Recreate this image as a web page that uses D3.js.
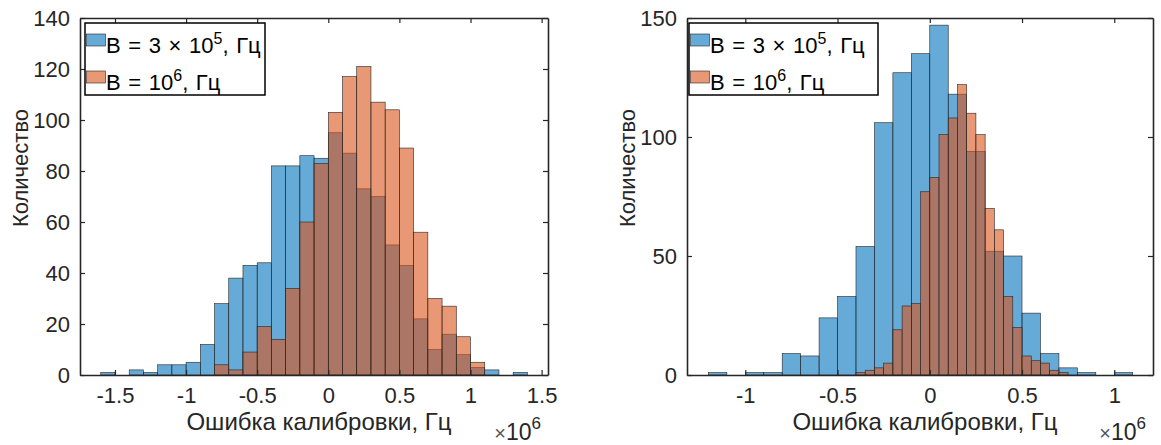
<!DOCTYPE html>
<html>
<head>
<meta charset="utf-8">
<script src="https://cdn.jsdelivr.net/npm/d3@7"></script>
<style>
  body { margin: 0; background: #fff; }
  svg { display: block; font-family: 'Liberation Sans', Arial, Helvetica, sans-serif; }
</style>
</head>
<body>
<svg id="chart" width="1161" height="445"></svg>
<script>
// counts per bin, x in units of 1e6 Hz
// left panel: both series with bin width 0.1
const leftBlueStart = -1.6;
const leftBlueWidth = 0.1;
const leftBlue = [1, 0, 2, 1, 4, 4, 5, 12, 28, 38, 43, 44, 82, 82, 86, 85, 95, 87, 73, 70, 51, 43, 22, 10, 16, 8, 3, 2, 0, 1];
const leftOrangeStart = -0.8;
const leftOrangeWidth = 0.1;
const leftOrange = [4, 2, 9, 19, 14, 34, 60, 83, 103, 117, 121, 107, 104, 89, 56, 30, 27, 15, 5];

// right panel: blue bins 0.1, orange bins 0.05
const rightBlueStart = -1.2;
const rightBlueWidth = 0.1;
const rightBlue = [1, 0, 1, 1, 9, 8, 24, 33, 54, 106, 127, 135, 147, 118, 94, 52, 50, 26, 9, 3, 1, 0, 1];
const rightOrangeStart = -0.4;
const rightOrangeWidth = 0.05;
const rightOrange = [1, 2, 3, 5, 19, 29, 30, 77, 83, 101, 108, 122, 110, 101, 70, 61, 33, 20, 8, 6, 5, 2, 1];

const leftXTicks = [-1.5, -1, -0.5, 0, 0.5, 1, 1.5];
const leftYTicks = [0, 20, 40, 60, 80, 100, 120, 140];
const rightXTicks = [-1, -0.5, 0, 0.5, 1];
const rightYTicks = [0, 50, 100, 150];

const seriesColors = ['#0072BD', '#D95319'];
const xLabel = 'Ошибка калибровки, Гц';
const yLabel = 'Количество';

const axisColor = '#262626';
const svg = d3.select('#chart');

function toBins(start, width, counts) {
  return counts.map((c, i) => ({ x0: start + i * width, x1: start + (i + 1) * width, n: c }));
}

function drawPanel(cfg) {
  const x = d3.scaleLinear().domain(cfg.xDomain).range([cfg.left, cfg.right]);
  const y = d3.scaleLinear().domain(cfg.yDomain).range([cfg.bottom, cfg.top]);
  const g = svg.append('g');

  // bars, second series drawn on top
  cfg.series.forEach((s, si) => {
    g.append('g').selectAll('rect')
      .data(toBins(s.start, s.width, s.counts))
      .join('rect')
      .attr('x', d => x(d.x0))
      .attr('width', d => x(d.x1) - x(d.x0))
      .attr('y', d => y(d.n))
      .attr('height', d => y(0) - y(d.n))
      .attr('fill', seriesColors[si])
      .attr('fill-opacity', 0.6)
      .attr('stroke', axisColor)
      .attr('stroke-width', 0.6);
  });

  // axes, ticks inward on all four sides (box on)
  const tl = 5;
  g.append('g')
    .attr('transform', `translate(0,${cfg.bottom})`)
    .call(d3.axisBottom(x).tickValues(cfg.xTicks).tickSize(-tl).tickPadding(12).tickSizeOuter(0).tickFormat(d => String(d)));
  g.append('g')
    .attr('transform', `translate(${cfg.left},0)`)
    .call(d3.axisLeft(y).tickValues(cfg.yTicks).tickSize(-tl).tickPadding(10).tickSizeOuter(0));
  g.append('g')
    .attr('transform', `translate(0,${cfg.top})`)
    .call(d3.axisTop(x).tickValues(cfg.xTicks).tickSize(-tl).tickSizeOuter(0).tickFormat(''));
  g.append('g')
    .attr('transform', `translate(${cfg.right},0)`)
    .call(d3.axisRight(y).tickValues(cfg.yTicks).tickSize(-tl).tickSizeOuter(0).tickFormat(''));

  g.selectAll('.domain').attr('stroke', axisColor).attr('stroke-width', 1.6);
  g.selectAll('.tick line').attr('stroke', axisColor).attr('stroke-width', 1.2);
  g.selectAll('.tick text')
    .attr('fill', axisColor)
    .style('font-size', '22px')
    .style('font-family', "'Liberation Sans', Arial, sans-serif");

  // x label and exponent
  g.append('text')
    .attr('x', (cfg.left + cfg.right) / 2 + 5)
    .attr('y', 430)
    .attr('text-anchor', 'middle')
    .attr('fill', axisColor)
    .style('font-size', '24px')
    .text(xLabel);
  const ex = g.append('text')
    .attr('x', cfg.right - 7)
    .attr('y', 440)
    .attr('text-anchor', 'end')
    .attr('fill', axisColor)
    .style('font-size', '23px');
  ex.append('tspan').attr('fill', '#555').style('font-size', '20px').text('\u00d7');
  ex.append('tspan').text('10');
  ex.append('tspan').attr('dy', -11).style('font-size', '17px').text('6');

  // y label
  g.append('text')
    .attr('transform', `translate(${cfg.left - 52},${cfg.ylabelY}) rotate(-90)`)
    .attr('text-anchor', 'middle')
    .attr('fill', axisColor)
    .style('font-size', '22px')
    .text(yLabel);

  // legend
  const lg = g.append('g').attr('transform', `translate(${cfg.left + cfg.legendDx},23)`);
  lg.append('rect')
    .attr('width', cfg.legendW).attr('height', 72)
    .attr('fill', '#fff')
    .attr('stroke', '#000').attr('stroke-width', 1.5);
  const entries = [
    { base: 'B = 3 \u00d7 10', sup: '5' },
    { base: 'B = 10', sup: '6' }
  ];
  entries.forEach((e, i) => {
    const yy = 11 + i * 37;
    lg.append('rect')
      .attr('x', 1.5).attr('y', yy)
      .attr('width', 19).attr('height', 12)
      .attr('fill', seriesColors[i]).attr('fill-opacity', 0.6)
      .attr('stroke', axisColor).attr('stroke-width', 0.6);
    const t = lg.append('text')
      .attr('x', 21).attr('y', yy + 19)
      .attr('fill', '#000')
      .style('font-size', '22px')
      .style('word-spacing', '1.5px');
    t.append('tspan').text(e.base);
    t.append('tspan').attr('dy', -9).style('font-size', '16px').text(e.sup);
    t.append('tspan').attr('dy', 9).text(', Гц');
  });
}

drawPanel({
  left: 80, right: 548, top: 18, bottom: 375,
  xDomain: [-1.746, 1.545], yDomain: [0, 140],
  xTicks: leftXTicks, yTicks: leftYTicks,
  legendDx: 5, legendW: 180, ylabelY: 168,
  series: [
    { start: leftBlueStart, width: leftBlueWidth, counts: leftBlue },
    { start: leftOrangeStart, width: leftOrangeWidth, counts: leftOrange }
  ]
});

drawPanel({
  left: 687, right: 1153, top: 18, bottom: 375,
  xDomain: [-1.316, 1.21], yDomain: [0, 150],
  xTicks: rightXTicks, yTicks: rightYTicks,
  legendDx: 2, legendW: 189, ylabelY: 168,
  series: [
    { start: rightBlueStart, width: rightBlueWidth, counts: rightBlue },
    { start: rightOrangeStart, width: rightOrangeWidth, counts: rightOrange }
  ]
});
</script>
</body>
</html>
